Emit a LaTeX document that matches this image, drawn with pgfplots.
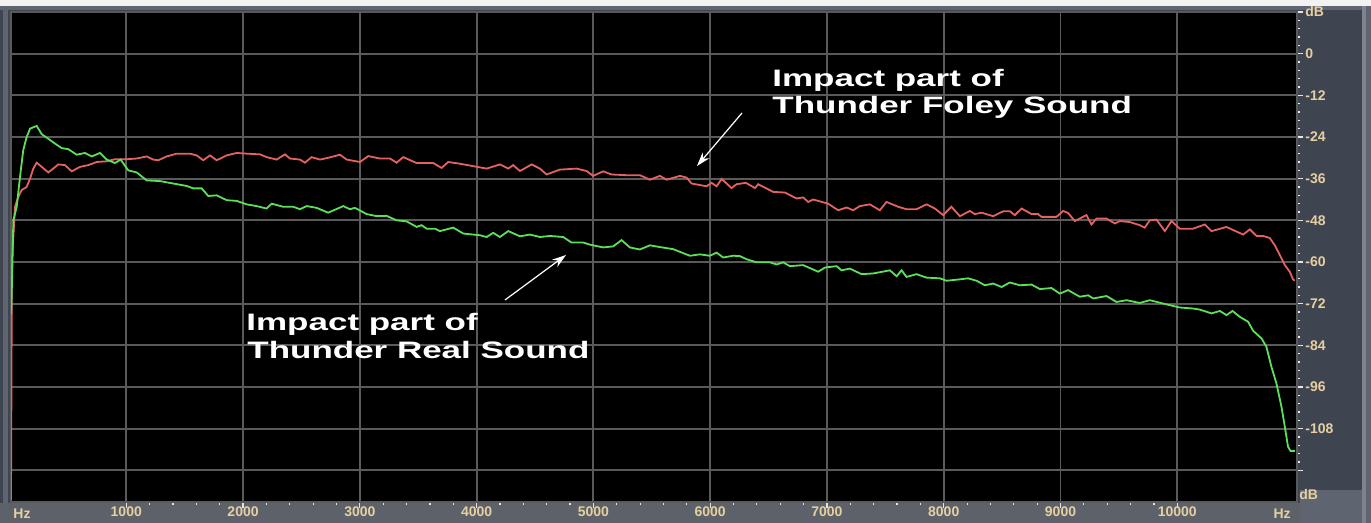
\documentclass[border=0pt]{standalone}
\usepackage{fontspec}
\setmainfont{Liberation Sans}
\usepackage{pgfplots}
\pgfplotsset{compat=1.18}
\usetikzlibrary{arrows.meta}
\definecolor{winbg}{HTML}{3F4550}
\definecolor{winlight}{HTML}{5E6470}
\definecolor{gridc}{HTML}{5A5A5A}
\definecolor{labc}{HTML}{E6CFA0}
\definecolor{redc}{HTML}{E46262}
\definecolor{greenc}{HTML}{5CE05A}
\newcommand{\px}[2]{({((#1)-11)*0.5pt},{(502.3-(#2))*0.5pt})}
\begin{document}
\begin{tikzpicture}
\path[use as bounding box] \px{0}{0} rectangle \px{1371}{523};
% window background
\fill[winbg] \px{0}{0} rectangle \px{1371}{523};
\fill[white!90!gray] \px{0}{0} rectangle \px{1371}{6};
\fill[winlight] \px{0}{6} rectangle \px{1371}{10};
\fill[winlight] \px{3}{6} rectangle \px{8}{523};
\fill[winlight!80!white] \px{1362}{6} rectangle \px{1366}{523};
\fill[winlight] \px{1366}{6} rectangle \px{1371}{523};
\fill[winbg!85!white] \px{0}{503} rectangle \px{1300}{523};
\fill[winlight] \px{1300}{490} rectangle \px{1362}{523};
\begin{axis}[
  at={(0,0)}, anchor=south west,
  scale only axis, width=643pt, height=245.15pt,
  xmin=13, xmax=11025, ymin=-129.2, ymax=12,
  axis background/.style={fill=black},
  axis line style={draw=gridc, line width=0.9pt},
  grid=major,
  major grid style={draw=gridc, line width=0.9pt},
  xtick={1000,2000,3000,4000,5000,6000,7000,8000,9000,10000},
  xticklabels={1000,2000,3000,4000,5000,6000,7000,8000,9000,10000},
  ytick={-120,-108,-96,-84,-72,-60,-48,-36,-24,-12,0,12},
  yticklabels={,-108,-96,-84,-72,-60,-48,-36,-24,-12,0,dB},
  extra y ticks={-127},
  extra y tick labels={dB},
  extra y tick style={grid=none, major tick length=0pt},
  minor x tick num=4, minor y tick num=4,
  xtick pos=lower, ytick pos=right, yticklabel pos=right,
  tick align=outside,
  major tick length=3pt, minor tick length=1.5pt,
  tick style={draw=white!80!gray, line width=0.6pt},
  xticklabel style={font=\fontsize{7}{8}\selectfont\bfseries, text=labc, inner sep=0.5pt, text depth=0pt, yshift=1.5pt},
  yticklabel style={font=\fontsize{7}{8}\selectfont\bfseries, text=labc, inner sep=1pt, anchor=west},
  clip=true,
]
\addplot[redc, line width=0.9pt] coordinates {
(13,-128.5)(21,-59.5)(33,-52.8)(47,-44.1)(75,-41.3)(104,-39.3)(147,-38.4)(176,-36.0)(204,-33.1)(233,-31.4)(276,-32.6)(332,-34.2)(375,-33.1)(418,-31.9)(475,-32.1)(533,-33.9)(604,-32.6)(675,-32.1)(747,-31.2)(832,-31.0)(903,-30.4)(1003,-30.4)(1089,-30.2)(1175,-29.6)(1231,-30.5)(1274,-30.7)(1346,-29.6)(1432,-28.8)(1545,-28.8)(1603,-29.3)(1659,-30.7)(1717,-29.3)(1774,-30.7)(1860,-29.3)(1945,-28.6)(2031,-28.8)(2145,-29.0)(2202,-29.8)(2288,-30.5)(2359,-29.0)(2402,-30.2)(2487,-30.5)(2530,-31.4)(2587,-29.8)(2658,-30.5)(2729,-30.0)(2830,-29.1)(2887,-30.5)(3001,-31.2)(3072,-29.5)(3172,-30.2)(3258,-30.2)(3315,-31.4)(3372,-29.8)(3486,-31.5)(3628,-31.5)(3700,-32.9)(3757,-31.2)(3857,-31.7)(3971,-32.4)(4086,-33.1)(4199,-31.9)(4271,-33.1)(4313,-32.1)(4371,-33.8)(4471,-31.9)(4542,-33.1)(4599,-34.8)(4713,-33.4)(4856,-33.1)(4942,-33.8)(4998,-35.2)(5084,-33.9)(5156,-34.8)(5284,-35.0)(5398,-35.0)(5484,-36.3)(5569,-35.2)(5627,-36.3)(5741,-35.2)(5798,-35.7)(5841,-37.4)(5969,-38.2)(6012,-37.2)(6055,-38.2)(6098,-36.1)(6183,-38.7)(6226,-37.6)(6306,-37.2)(6383,-38.7)(6411,-37.6)(6539,-39.8)(6640,-40.0)(6740,-41.7)(6796,-41.4)(6839,-42.7)(6882,-42.0)(7010,-43.2)(7096,-45.1)(7168,-44.3)(7224,-45.1)(7282,-43.9)(7367,-43.4)(7453,-45.1)(7510,-42.7)(7610,-44.1)(7681,-44.8)(7767,-44.8)(7853,-43.4)(7924,-44.6)(7995,-46.5)(8066,-44.1)(8138,-46.8)(8223,-45.3)(8266,-46.2)(8324,-45.8)(8423,-46.8)(8509,-45.4)(8566,-45.4)(8609,-46.5)(8666,-44.6)(8752,-46.2)(8808,-46.2)(8837,-47.0)(8966,-47.0)(9022,-45.3)(9065,-45.9)(9122,-48.2)(9222,-46.5)(9265,-49.2)(9308,-47.5)(9394,-47.5)(9465,-48.9)(9507,-48.2)(9593,-48.5)(9679,-49.4)(9721,-50.1)(9764,-48.0)(9822,-47.8)(9893,-51.1)(9950,-48.2)(10021,-50.4)(10135,-50.4)(10235,-49.2)(10293,-51.1)(10349,-50.6)(10421,-49.9)(10478,-50.8)(10564,-52.1)(10621,-50.6)(10678,-52.5)(10735,-52.5)(10792,-53.1)(10835,-55.2)(10878,-58.0)(10921,-60.9)(10963,-62.8)(10991,-65.0)(11006,-65.4)
};
\addplot[greenc, line width=0.9pt] coordinates {
(15,-75.0)(26,-59.5)(33,-48.0)(62,-44.1)(90,-35.5)(118,-27.8)(147,-24.0)(176,-21.6)(233,-20.8)(276,-23.2)(332,-24.5)(390,-25.9)(447,-27.2)(503,-27.5)(575,-29.1)(646,-28.6)(704,-29.6)(775,-28.6)(832,-30.5)(903,-31.5)(952,-30.5)(1017,-33.6)(1089,-34.2)(1175,-36.5)(1289,-36.7)(1402,-37.4)(1517,-38.1)(1574,-38.8)(1646,-38.8)(1702,-41.0)(1774,-40.8)(1860,-42.2)(1945,-42.4)(2031,-43.4)(2116,-43.9)(2202,-44.6)(2245,-43.2)(2344,-44.1)(2430,-44.1)(2487,-44.8)(2545,-43.9)(2630,-44.4)(2729,-45.8)(2858,-43.9)(2915,-44.8)(2958,-44.4)(3058,-46.2)(3144,-46.8)(3229,-46.7)(3315,-48.0)(3401,-48.3)(3486,-49.9)(3529,-49.4)(3572,-50.4)(3643,-50.4)(3686,-51.1)(3800,-50.1)(3885,-51.8)(4028,-52.3)(4086,-52.8)(4142,-51.6)(4199,-52.8)(4271,-51.1)(4371,-52.6)(4456,-52.1)(4542,-52.8)(4628,-52.5)(4741,-52.8)(4813,-54.4)(4913,-54.4)(4970,-55.0)(5084,-55.8)(5169,-55.5)(5241,-53.7)(5312,-55.8)(5398,-56.4)(5484,-55.2)(5569,-55.7)(5683,-56.3)(5826,-58.2)(5912,-57.8)(5997,-58.2)(6055,-57.3)(6111,-58.7)(6197,-58.2)(6254,-58.3)(6312,-59.2)(6397,-60.1)(6511,-60.1)(6569,-60.7)(6625,-60.1)(6682,-61.2)(6796,-60.9)(6925,-62.8)(6982,-61.6)(7082,-61.2)(7125,-62.4)(7196,-61.9)(7296,-63.5)(7396,-63.3)(7539,-62.4)(7596,-64.1)(7639,-62.4)(7681,-64.3)(7767,-63.5)(7853,-64.5)(7967,-64.7)(8024,-65.4)(8138,-65.0)(8209,-64.7)(8281,-65.4)(8352,-66.7)(8423,-66.2)(8495,-67.2)(8566,-65.9)(8651,-66.7)(8752,-66.5)(8823,-67.8)(8923,-67.5)(8994,-69.1)(9065,-68.1)(9165,-70.0)(9237,-69.6)(9280,-70.5)(9394,-69.8)(9479,-71.5)(9565,-71.0)(9679,-71.8)(9764,-71.0)(9907,-72.2)(10021,-73.1)(10135,-73.4)(10192,-73.7)(10293,-74.8)(10364,-74.1)(10421,-75.3)(10473,-74.1)(10535,-75.8)(10606,-77.2)(10649,-79.8)(10721,-82.0)(10763,-84.4)(10806,-90.2)(10849,-95.0)(10892,-101.7)(10921,-107.5)(10948,-113.2)(10969,-114.4)(11006,-114.4)
};
\end{axis}
% Hz labels
\node[anchor=base west, inner sep=0pt, font=\fontsize{7}{8}\selectfont\bfseries, text=labc] at \px{13}{519} {Hz};
\node[anchor=base east, inner sep=0pt, font=\fontsize{7}{8}\selectfont\bfseries, text=labc] at \px{1291}{519} {Hz};
% annotations
\draw[white, line width=0.6pt, -{Stealth[length=7pt,width=4.5pt]}] \px{742}{113} -- \px{697}{166};
\draw[white, line width=0.6pt, -{Stealth[length=7pt,width=4.5pt]}] \px{505}{300} -- \px{566}{255};
\begin{scope}[every node/.style={anchor=base west, inner sep=0pt, text=white, font=\fontsize{11.9}{13}\selectfont\bfseries}]
\node at \px{772}{87} {\scalebox{1.47}[1]{Impact part of}};
\node at \px{772}{114} {\scalebox{1.47}[1]{Thunder Foley Sound}};
\node at \px{246}{331} {\scalebox{1.47}[1]{Impact part of}};
\node at \px{247}{359} {\scalebox{1.47}[1]{Thunder Real Sound}};
\end{scope}
\end{tikzpicture}
\end{document}
